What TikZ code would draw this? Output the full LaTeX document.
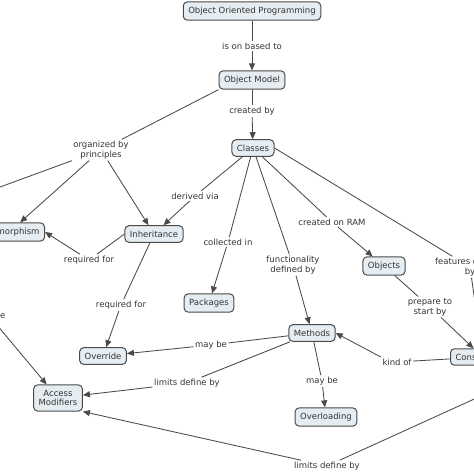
\documentclass[tikz,border=0pt]{standalone}
\usepackage{fontspec}
\setmainfont{DejaVu Sans}
\usetikzlibrary{arrows.meta}

\definecolor{boxfill}{HTML}{E6EDF2}
\definecolor{boxline}{HTML}{4A4A4A}
\definecolor{ink}{HTML}{333333}

\tikzset{
  concept/.style={draw=boxline, line width=1pt, fill=boxfill, rounded corners=4pt,
    inner xsep=5pt, inner ysep=5pt, text=ink, align=center,
    font=\fontsize{8.5}{9.8}\selectfont},
  linkword/.style={inner sep=1.5pt, text=ink, align=center,
    font=\fontsize{8.5}{9.8}\selectfont},
  link/.style={draw=boxline, line width=0.85pt},
  arrowlink/.style={link, -{Triangle[length=7pt,width=6pt]}}
}

\begin{document}
\begin{tikzpicture}[x=1pt, y=-1pt]
\useasboundingbox (0,0) rectangle (474,474);
\clip (0,0) rectangle (474,474);

% concepts
\node[concept] (oop) at (252,11) {Object Oriented Programming};
\node[concept] (objmodel) at (252,80) {Object Model};
\node[concept] (classes) at (253,148) {Classes};
\node[concept, anchor=east] (poly) at (45,232) {Polymorphism};
\node[concept] (inherit) at (154,234) {Inheritance};
\node[concept] (packages) at (209,303) {Packages};
\node[concept] (objects) at (384,266) {Objects};
\node[concept] (methods) at (312,333) {Methods};
\node[concept, anchor=west] (construct) at (450,357) {Constructors};
\node[concept] (override) at (103,356) {Override};
\node[concept] (access) at (58,398) {Access\\Modifiers};
\node[concept] (overload) at (326,417) {Overloading};

% linking words
\node[linkword] (isbased) at (252,46) {is on based to};
\node[linkword] (createdby) at (252,111) {created by};
\node[linkword] (organized) at (101,150) {organized by\\principles};
\node[linkword] (derived) at (195,196) {derived via};
\node[linkword] (collected) at (228,242) {collected in};
\node[linkword] (funcdef) at (293,265) {functionality\\defined by};
\node[linkword] (onram) at (332,222) {created on RAM};
\node[linkword] (features) at (470,267) {features defined\\by};
\node[linkword] (prepare) at (430,307) {prepare to\\start by};
\node[linkword] (kindof) at (397,362) {kind of};
\node[linkword] (maybeover) at (211,345) {may be};
\node[linkword] (limitsone) at (187,383) {limits define by};
\node[linkword] (limitstwo) at (327,466) {limits define by};
\node[linkword] (maybeload) at (322,381) {may be};
\node[linkword] (reqpoly) at (89,260) {required for};
\node[linkword] (reqover) at (121,305) {required for};
\node[linkword, anchor=east] (maybeleft) at (7,316) {may be};

% free ends beyond the border
\coordinate (offleft) at (-60,209);
\coordinate (offright) at (560,360);

% top
\draw[link] (oop) -- (isbased);
\draw[arrowlink] (isbased) -- (objmodel);
\draw[link] (objmodel) -- (createdby);
\draw[arrowlink] (createdby) -- (classes);

% principles
\draw[link] (objmodel.south west) -- (organized);
\draw[link] (organized) -- (offleft);
\draw[arrowlink] (organized) -- (poly);
\draw[arrowlink] (organized) -- (inherit);

% classes
\draw[link] (classes) -- (derived);
\draw[arrowlink] (derived) -- (inherit);
\draw[link] (classes) -- (collected);
\draw[arrowlink] (collected) -- (packages);
\draw[link] (classes) -- (funcdef);
\draw[arrowlink] (funcdef) -- (methods);
\draw[link] (classes) -- (onram);
\draw[arrowlink] (onram) -- (objects);
\draw[link] (classes.east) -- (features);
\draw[arrowlink] (features) -- (construct);

% objects
\draw[link] (objects) -- (prepare);
\draw[arrowlink] (prepare) -- (construct);
\draw[link] (construct) -- (kindof);
\draw[arrowlink] (kindof.north west) -- (methods.east);

% inheritance
\draw[link] (inherit.west) -- (reqpoly);
\draw[arrowlink] (reqpoly) -- (poly.east);
\draw[link] (inherit) -- (reqover);
\draw[arrowlink] (reqover) -- (override);

% methods
\draw[link] (methods) -- (maybeover);
\draw[arrowlink] (maybeover) -- (override);
\draw[link] (methods) -- (limitsone);
\draw[arrowlink] (limitsone) -- (access);
\draw[link] (methods) -- (maybeload);
\draw[arrowlink] (maybeload) -- (overload);

% access modifiers
\draw[arrowlink] (maybeleft) -- (access);
\draw[link] (offright) -- (limitstwo);
\draw[arrowlink] (limitstwo) -- (access.south east);
\end{tikzpicture}
\end{document}
